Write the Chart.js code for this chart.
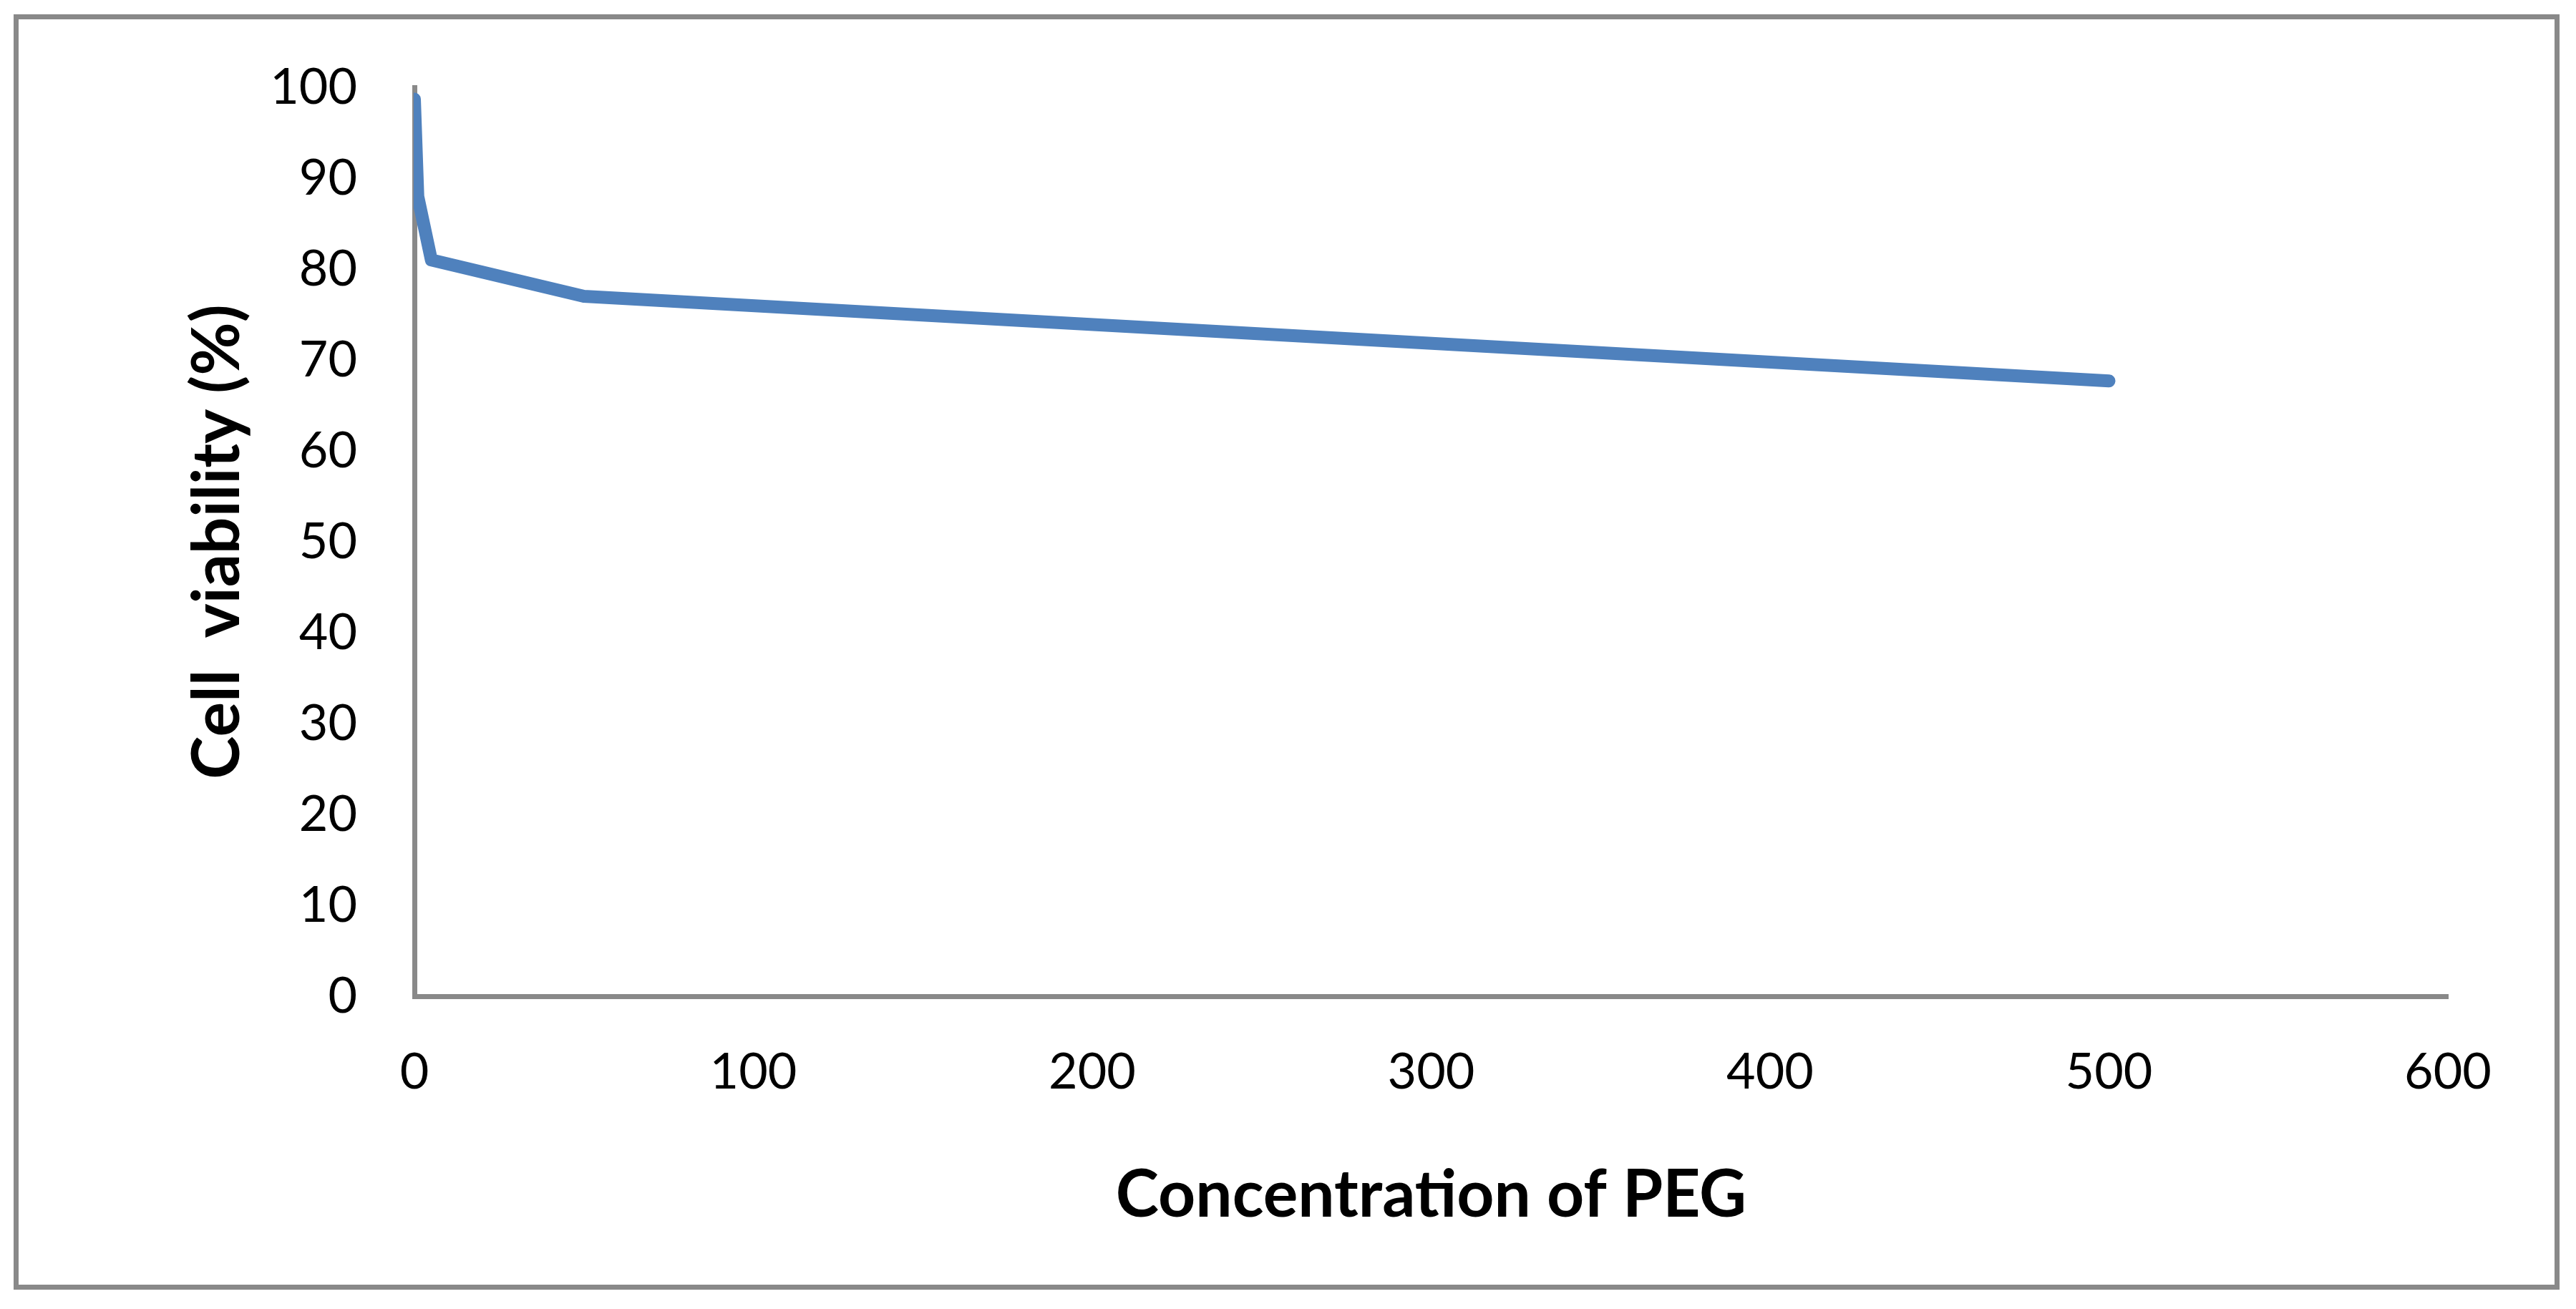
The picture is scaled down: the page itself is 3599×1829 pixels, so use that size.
<!DOCTYPE html>
<html>
<head>
<meta charset="utf-8">
<script src="https://cdn.jsdelivr.net/npm/chart.js@4"></script>
<style>
  html, body { margin: 0; padding: 0; background: #ffffff; }
  #wrap { position: relative; width: 3599px; height: 1829px; background: #ffffff; }
  #frame { position: absolute; left: 19px; top: 20px; width: 3557px; height: 1782px;
           box-sizing: border-box; border: 7px solid #898989; }
  #c { position: absolute; left: 0; top: 0; }
</style>
</head>
<body>
<div id="wrap">
  <div id="frame"></div>
  <canvas id="c" width="3599" height="1829"></canvas>
</div>
<script>
// ---- data ----
const concentrations = [0, 1, 5, 50, 500];
const viability = [98.7, 88, 81, 77, 67.7];
const xTicks = [0, 100, 200, 300, 400, 500, 600];
const yTicks = [0, 10, 20, 30, 40, 50, 60, 70, 80, 90, 100];
const xTitle = 'Concentration of PEG';
const yTitle = 'Cell  viability (%)';

const points = concentrations.map((x, i) => ({ x: x, y: viability[i] }));

new Chart(document.getElementById('c'), {
  type: 'line',
  data: {
    datasets: [{
      data: points,
      borderColor: '#4F81BD',
      backgroundColor: '#4F81BD',
      borderWidth: 18,
      borderCapStyle: 'round',
      borderJoinStyle: 'round',
      pointRadius: 0,
      pointHoverRadius: 0,
      tension: 0,
      fill: false,
      clip: { left: 1, top: 20, right: 20, bottom: 0 }
    }]
  },
  options: {
    responsive: false,
    animation: false,
    devicePixelRatio: 1,
    events: [],
    layout: { padding: { left: 0, top: 116, right: 179, bottom: 0 } },
    plugins: { legend: { display: false }, tooltip: { enabled: false }, title: { display: false } },
    scales: {
      x: {
        type: 'linear',
        min: 0, max: 600,
        afterBuildTicks: s => { s.ticks = xTicks.map(v => ({ value: v })); },
        afterFit: s => { s.height = 437; },
        grid: { display: false, drawTicks: false, tickLength: 0 },
        border: { display: true, color: '#898989', width: 7 },
        ticks: { color: '#000000', padding: 64, maxRotation: 0, autoSkip: false,
                 font: { family: 'Lato', size: 70 } },
        title: { display: true, text: xTitle, color: '#000000',
                 font: { family: 'Lato', size: 91, weight: 'bold' },
                 padding: { top: 0, bottom: 104 } }
      },
      y: {
        type: 'linear',
        min: 0, max: 100,
        afterBuildTicks: s => { s.ticks = yTicks.map(v => ({ value: v })); },
        afterFit: s => { s.width = 579; },
        grid: { display: false, drawTicks: false, tickLength: 0 },
        border: { display: true, color: '#898989', width: 7 },
        ticks: { color: '#000000', padding: 80, autoSkip: false,
                 font: { family: 'Lato', size: 70 } },
        title: { display: true, text: yTitle, color: '#000000',
                 font: { family: 'Lato', size: 91, weight: 'bold' },
                 padding: { top: 250, bottom: 0 } }
      }
    }
  }
});
</script>
</body>
</html>
